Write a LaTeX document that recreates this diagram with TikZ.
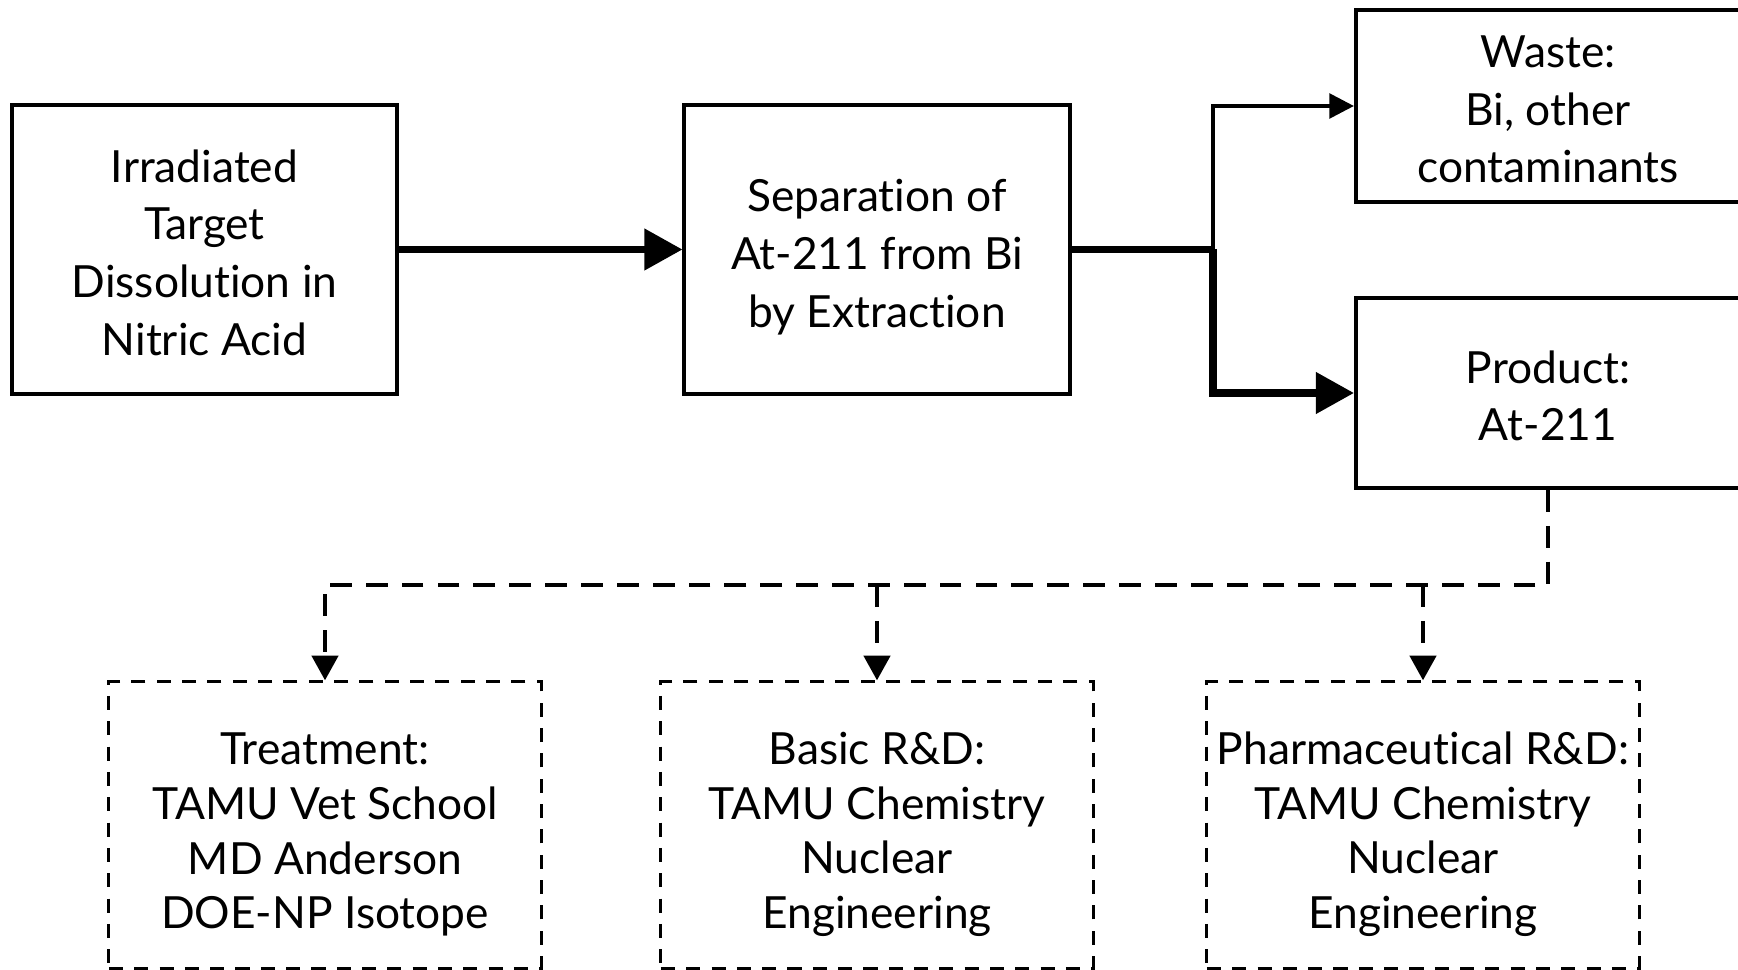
\documentclass[tikz,border=0pt]{standalone}
\usepackage{fontspec}
\setmainfont{Lato}[Ligatures=NoCommon]
\usetikzlibrary{arrows.meta}
\usetikzlibrary{positioning}
\usetikzlibrary{calc}

\newcommand{\tdrop}[1]{\rule{0pt}{#1}}

\begin{document}
\begin{tikzpicture}[x=0.01cm, y=-0.01cm,
    block/.style={draw, line width=1.1pt, align=center, inner sep=0pt,
        font=\fontsize{12.6}{16.4}\selectfont},
    subblock/.style={block, line width=0.9pt, dash pattern=on 4pt off 3.2pt,
        minimum width=4.32cm, minimum height=2.86cm,
        font=\fontsize{12.6}{15.6}\selectfont},
    bigarrow/.style={line width=2pt, -{Triangle[length=10.8pt,width=11.4pt]}},
    smallarrow/.style={line width=1.1pt, -{Triangle[length=7pt,width=7pt]}},
    dasharrow/.style={line width=1.2pt, dash pattern=on 6.2pt off 4pt,
        -{Triangle[length=7pt,width=7.4pt]}}]
            \useasboundingbox (0,0) rectangle (1738,970);

            % Process chain
            \node[block, minimum width=3.85cm, minimum height=2.88cm] (irr) at (204.5,249.5)
                {\tdrop{11pt}Irradiated\\Target\\Dissolution in\\Nitric Acid};
            \node[block, minimum width=3.85cm, minimum height=2.88cm] (sep) at (877,249.5)
                {\tdrop{13.5pt}Separation of\\At-211 from Bi\\by Extraction};
            \node[block, minimum width=3.84cm, minimum height=1.92cm] (waste) at (1548,106)
                {\tdrop{11pt}Waste:\\Bi, other\\contaminants};
            \node[block, minimum width=3.84cm, minimum height=1.90cm] (prod) at (1548,393)
                {\tdrop{11pt}Product:\\At-211};

            \draw[bigarrow] (irr) -- (sep);
            \coordinate (split) at (1213,249.5);
            \draw[line width=2pt] (sep.east) -- (split);
            \draw[smallarrow] (split) |- (waste.west);
            \draw[bigarrow] (split) |- (prod.west);

            % Users
            \node[subblock] (treat) at (325,825)
                {\tdrop{14.5pt}Treatment:\\TAMU Vet School\\MD Anderson\\DOE-NP Isotope};
            \node[subblock] (basic) at (877,825)
                {\tdrop{14.5pt}Basic R\&D:\\TAMU Chemistry\\Nuclear\\Engineering};
            \node[subblock] (pharma) at (1423,825)
                {\tdrop{14.5pt}Pharmaceutical R\&D:\\TAMU Chemistry\\Nuclear\\Engineering};

            \coordinate (bus) at (1548,585);
            \draw[dasharrow] (prod.south) -- (bus) -| (treat.north);
            \draw[dasharrow] (basic.north |- bus) -- (basic.north);
            \draw[dasharrow] (pharma.north |- bus) -- (pharma.north);
        \end{tikzpicture}
\end{document}
